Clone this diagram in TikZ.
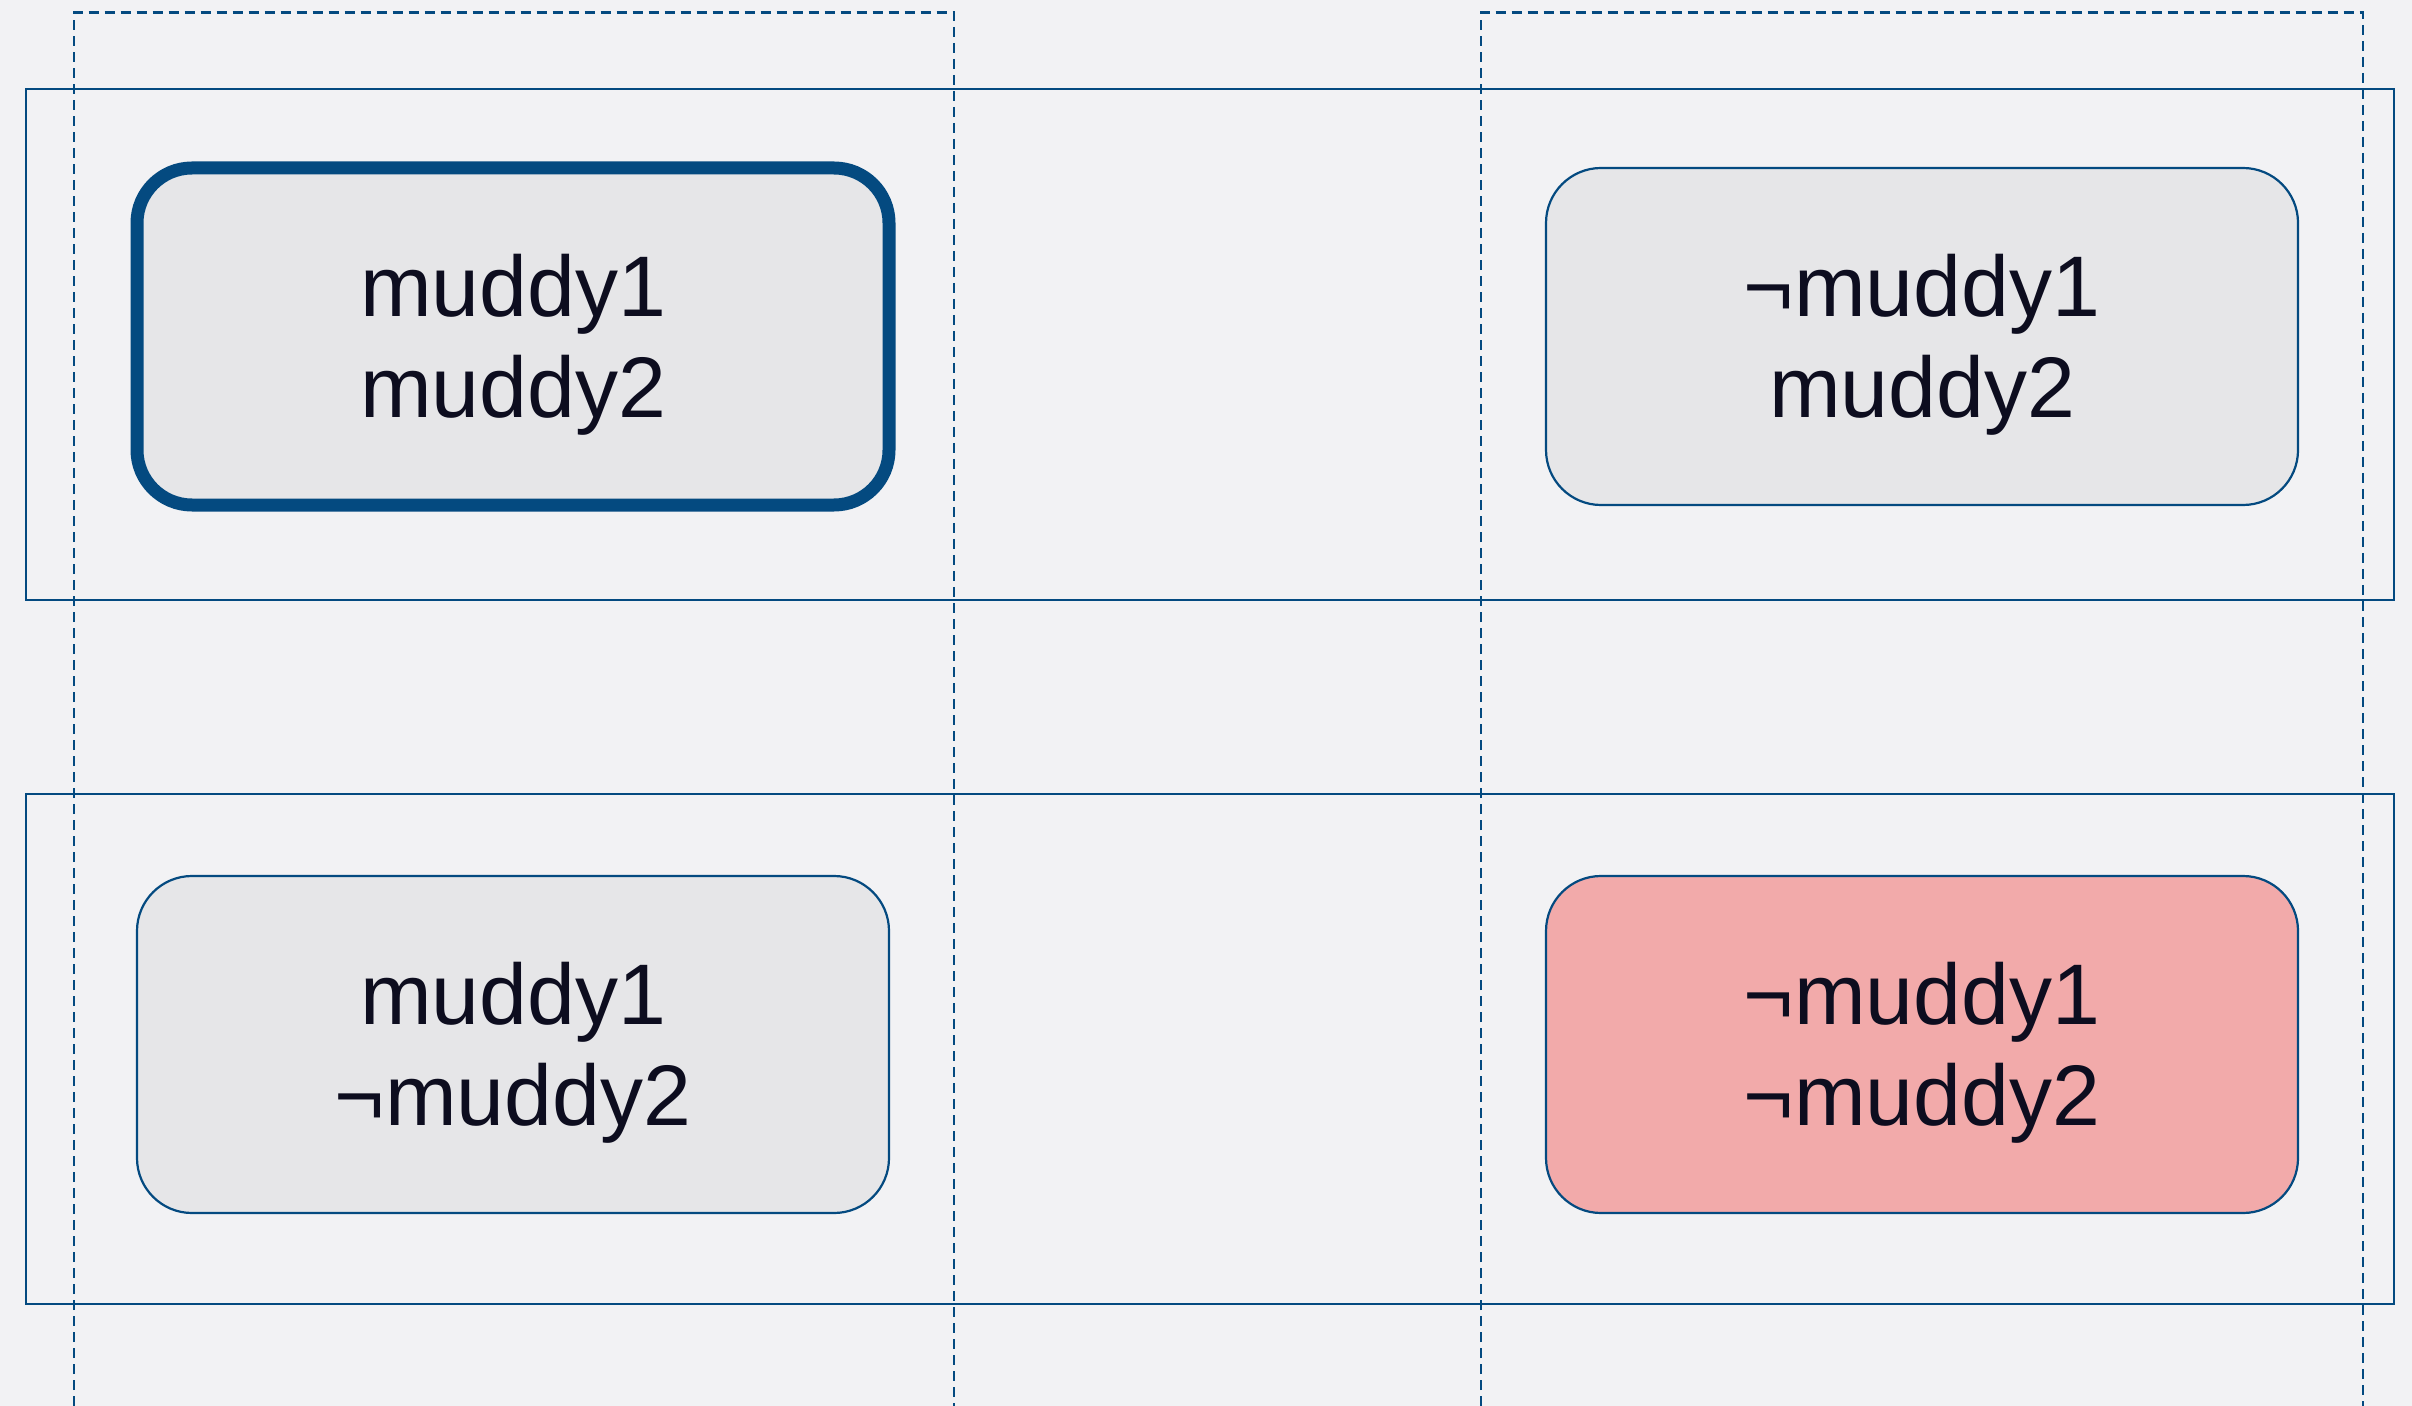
\documentclass[tikz,border=0pt]{standalone}
\usepackage{fontspec}
\setmainfont{Liberation Sans}
\usepackage{tikz}

\definecolor{bgcol}{HTML}{F2F2F4}
\definecolor{framecol}{HTML}{044A80}
\definecolor{worldfill}{HTML}{E6E6E8}
\definecolor{pinkfill}{HTML}{F2AAAA}
\definecolor{textcol}{HTML}{0D0D1F}

\tikzset{
  world/.style={draw=framecol, line width=1.1pt, fill=worldfill, rounded corners=27.5pt,
    minimum width=376pt, minimum height=168.5pt, align=center, text=textcol,
    text depth=1pt, font=\fontsize{43}{50.5}\selectfont},
  actual/.style={line width=6.5pt},
  group/.style={draw=framecol, line width=1.1pt},
  agentgroup/.style={draw=framecol, line width=1.1pt, dash pattern=on 5pt off 3pt}
}

\begin{document}
\begin{tikzpicture}[x=0.5pt,y=0.5pt,yscale=-1,xscale=1]
%set diagram left start at 0, and has height of 1406
\useasboundingbox (0,0) rectangle (2412,1406);
\fill[bgcol] (0,0) rectangle (2412,1406);

% Rect (muddy2 row)
\draw[group] (26,89) rectangle (2394,600);
% Rect (not muddy2 row)
\draw[group] (26,794) rectangle (2394,1304);
% Dashed (muddy1 column)
\draw[agentgroup] (74,1406) -- (74,12.5) -- (954,12.5) -- (954,1406);
% Dashed (not muddy1 column)
\draw[agentgroup] (1481,1406) -- (1481,12.5) -- (2363,12.5) -- (2363,1406);

% Rounded Rect
\node[world, actual] (w11) at (513,336.5) {muddy1\\muddy2};
% Rounded Rect
\node[world] (w01) at (1922,336.5) {¬muddy1\\muddy2};
% Rounded Rect
\node[world] (w10) at (513,1044.5) {muddy1\\¬muddy2};
% Rounded Rect
\node[world, fill=pinkfill] (w00) at (1922,1044.5) {¬muddy1\\¬muddy2};

\end{tikzpicture}
\end{document}
